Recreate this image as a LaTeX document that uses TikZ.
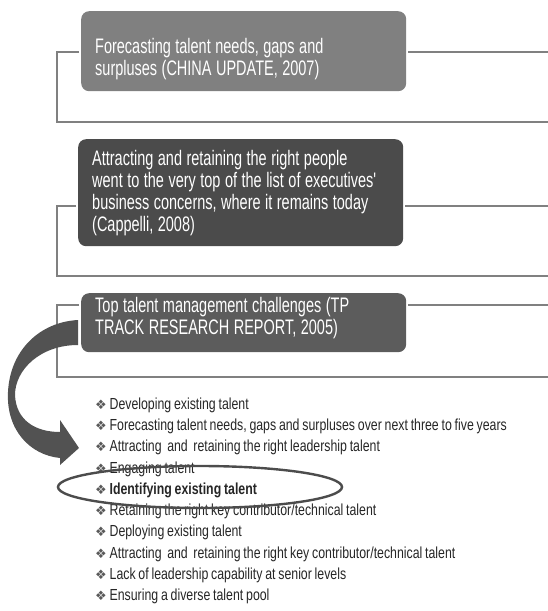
\documentclass[tikz,border=0pt]{standalone}
\usepackage{fontspec}
\setmainfont{Liberation Sans}
\newfontfamily\boxfont{Liberation Sans}[FakeStretch=0.69]
\newfontfamily\listfont{Liberation Sans}[FakeStretch=0.77]
\newfontfamily\bulletfont{DejaVu Sans}
\usetikzlibrary{shapes.geometric}
\hyphenpenalty=10000

\definecolor{boxgrayA}{HTML}{808080}
\definecolor{boxgrayB}{HTML}{4B4B4B}
\definecolor{boxgrayC}{HTML}{5C5C5C}
\definecolor{linegray}{HTML}{808080}
\definecolor{arrowgray}{HTML}{525252}

\newcommand{\tbul}{{\bulletfont\fontsize{13}{14}\selectfont\textcolor{black!65}{❖}}\ }

\begin{document}
\begin{tikzpicture}[x=1pt, y=-1pt,
    talent box/.style={rounded corners=8pt, text=white, align=left, anchor=north west,
                       inner xsep=14pt, inner ysep=0pt, text width=297pt,
                       font=\boxfont\fontsize{21}{22}\selectfont,
                       execute at begin node={\spaceskip=4.5pt\relax}},
    link/.style={draw=linegray, line width=2pt},
    item/.style={anchor=west, inner sep=0pt, font=\listfont\fontsize{16}{18}\selectfont, text=black!85,
                 execute at begin node={\spaceskip=2.8pt\relax}},
    ring/.style={ellipse, draw=black!70, line width=2.4pt, minimum width=284pt,
                 minimum height=42pt, inner sep=0pt}]

  \useasboundingbox (0,0) rectangle (548,611);

  % the three source boxes
  \node[talent box, fill=boxgrayA, minimum height=80pt] (fore) at (81,11)
    {\rule{0pt}{30pt}Forecasting talent needs, gaps and\\surpluses (CHINA UPDATE, 2007)};
  \node[talent box, fill=boxgrayB, minimum height=107pt] (peop) at (78,139)
    {Attracting and retaining the right people\\went to the very top of the list of executives'\\business concerns, where it remains today\\(Cappelli, 2008)};
  \node[talent box, fill=boxgrayC, minimum height=59pt] (chal) at (81,293)
    {Top talent management challenges (TP\\TRACK RESEARCH REPORT, 2005)\rule[-14pt]{0pt}{0pt}};

  % bracket corners
  \coordinate (fore-l) at (57,52);
  \coordinate (fore-b) at (57,122);
  \coordinate (fore-r) at (548,122);
  \coordinate (peop-l) at (57,206);
  \coordinate (peop-b) at (57,276);
  \coordinate (peop-r) at (548,276);
  \coordinate (chal-l) at (57,305);
  \coordinate (chal-b) at (57,377);
  \coordinate (chal-r) at (548,377);

  \draw[link] (fore.west |- fore-l) ++(-2,0) -- (fore-l) -- (fore-b) -- (fore-r);
  \draw[link] (fore.east |- fore-l) ++(2,0) -- (fore-l -| fore-r);
  \draw[link] (peop.west |- peop-l) ++(-2,0) -- (peop-l) -- (peop-b) -- (peop-r);
  \draw[link] (peop.east |- peop-l) ++(2,0) -- (peop-l -| peop-r);
  \draw[link] (chal.west |- chal-l) ++(-2,0) -- (chal-l) -- (chal-b) -- (chal-r);
  \draw[link] (chal.east |- chal-l) ++(2,0) -- (chal-l -| chal-r);

  % the list of challenges
  \node[item] (i1)  at (95,405.0) {\tbul Developing existing talent};
  \node[item] (i2)  at (95,426.3) {\tbul Forecasting talent needs, gaps and surpluses over next three to five years};
  \node[item] (i3)  at (95,447.6) {\tbul Attracting~ and~ retaining the right leadership talent};
  \node[item] (i4)  at (95,468.9) {\tbul Engaging talent};
  \node[item] (i5)  at (95,490.2) {\tbul \textbf{Identifying existing talent}};
  \node[item] (i6)  at (95,511.5) {\tbul Retaining the right key contributor/technical talent};
  \node[item] (i7)  at (95,532.8) {\tbul Deploying existing talent};
  \node[item] (i8)  at (95,554.1) {\tbul Attracting~ and~ retaining the right key contributor/technical talent};
  \node[item] (i9)  at (95,575.4) {\tbul Lack of leadership capability at senior levels};
  \node[item] (i10) at (95,596.7) {\tbul Ensuring a diverse talent pool};

  \node[ring] (ring) at (200,487) {};

  % curved arrow
  \fill[arrowgray] (78,320) .. controls (40,322) and (10,350) .. (8,392)
    .. controls (6,430) and (30,455) .. (60,458) -- (60,465) -- (79,448)
    -- (60,420) -- (60,432) .. controls (35,432) and (16,420) .. (15,395)
    .. controls (15,370) and (40,345) .. (78,345) -- cycle;

\end{tikzpicture}
\end{document}
